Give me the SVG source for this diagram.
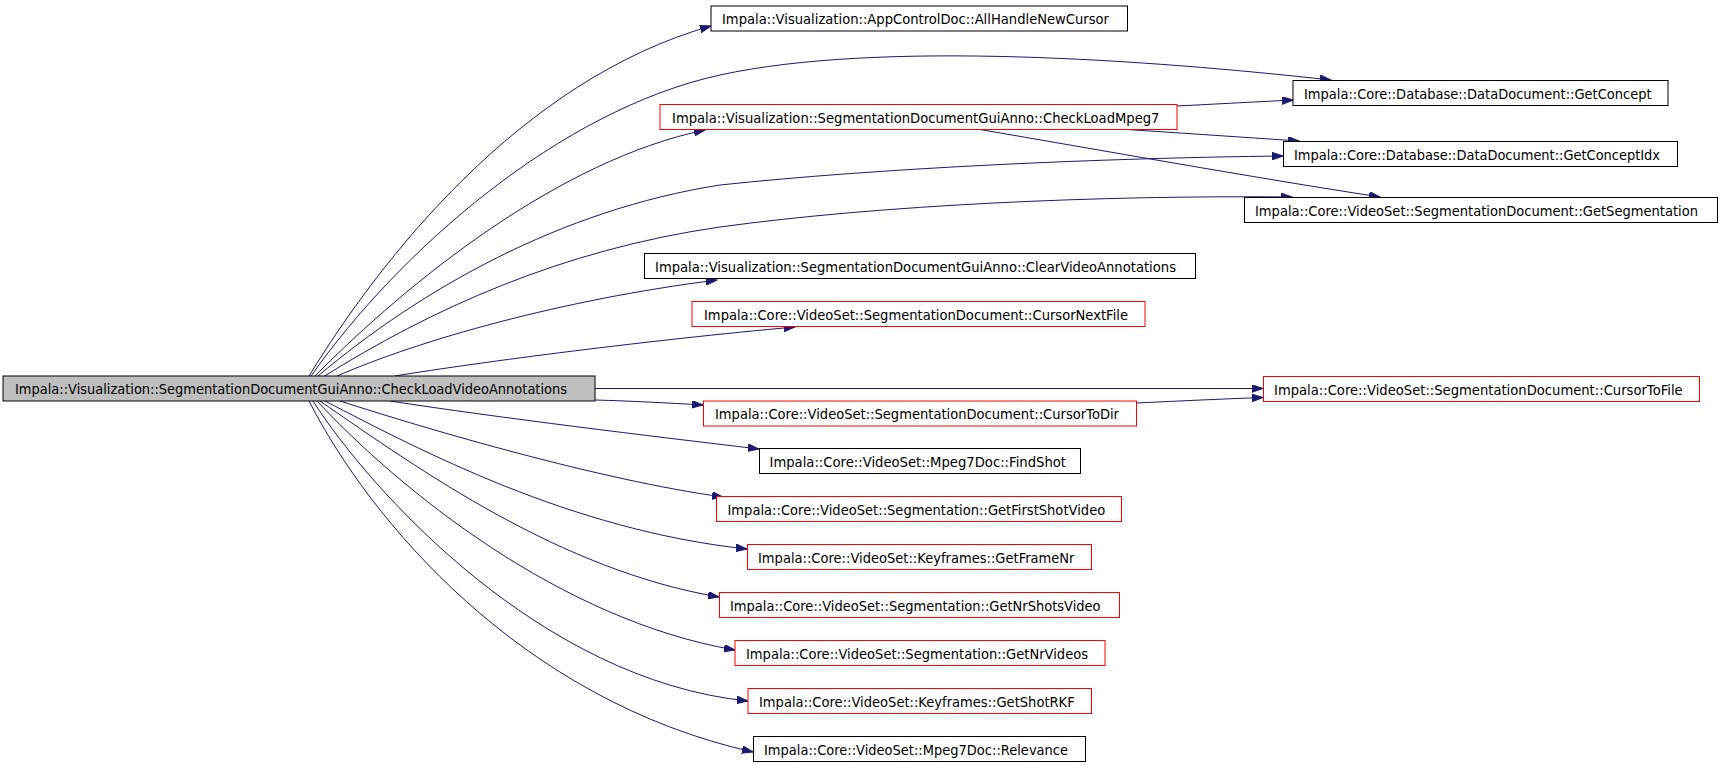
<svg xmlns="http://www.w3.org/2000/svg" width="1722" height="765" viewBox="0 0 1722 765">
<defs>
<style>
.n rect{fill:#ffffff;stroke:#000000;stroke-width:1}
.n.red rect{stroke:#ff0000}
.n.main rect{fill:#bfbfbf}
.n text{font-family:"DejaVu Sans","Liberation Sans",sans-serif;font-size:13.5px;fill:#000000}
#edges path{fill:none;stroke:#191970;stroke-width:1;marker-end:url(#arr)}
</style>
<marker id="arr" markerUnits="userSpaceOnUse" markerWidth="12" markerHeight="8" refX="11" refY="3.75" orient="auto" viewBox="0 0 12 8">
<path d="M0,0 L11,3.75 L0,7.5 z" fill="#191970" stroke="#191970" stroke-width="1"/>
</marker>
</defs>
<rect x="0" y="0" width="1722" height="765" fill="#ffffff"/>
<g id="edges">
<path d="M309,376 C380,260 520,80 711,26"/>
<path d="M311,376 C400,250 560,110 720,75 C880,40 1150,60 1331,80"/>
<path d="M315,376 C410,280 560,160 705,130"/>
<path d="M318,376 C420,290 560,210 720,185 C880,168 1100,158 1283,156"/>
<path d="M323,377 C430,310 560,250 720,227 C880,205 1100,195 1292,197"/>
<path d="M337,376 C420,340 560,300 717,280"/>
<path d="M395,376 C480,362 650,340 795,327"/>
<path d="M595,388.5 L1263,388.5"/>
<path d="M595,400 C630,401 670,403 703,405"/>
<path d="M1136,403 C1180,401 1220,399 1263,397.5"/>
<path d="M1177,106 L1293,100"/>
<path d="M1120,129 C1180,133 1240,137 1299,141"/>
<path d="M977,129 C1100,150 1250,177 1380,197"/>
<path d="M390,401 C500,418 650,436 759,449"/>
<path d="M340,401 C430,430 600,480 723,497"/>
<path d="M325,401 C420,450 570,530 747,549"/>
<path d="M320,401 C420,470 560,570 719,597"/>
<path d="M317,401 C400,490 560,620 735,650"/>
<path d="M313,401 C370,490 540,680 748,701"/>
<path d="M309,401 C370,520 520,700 753,752"/>
</g>
<g id="node-main" class="n main"><rect x="3" y="376" width="592" height="25"/><text x="15" y="394.3" textLength="552" lengthAdjust="spacingAndGlyphs">Impala::Visualization::SegmentationDocumentGuiAnno::CheckLoadVideoAnnotations</text></g>
<g id="node-allhandle" class="n"><rect x="711" y="6" width="416.5" height="25"/><text x="722" y="24.3" textLength="387" lengthAdjust="spacingAndGlyphs">Impala::Visualization::AppControlDoc::AllHandleNewCursor</text></g>
<g id="node-getconcept" class="n"><rect x="1293" y="80.5" width="375" height="25"/><text x="1304" y="98.8" textLength="347.6" lengthAdjust="spacingAndGlyphs">Impala::Core::Database::DataDocument::GetConcept</text></g>
<g id="node-checkloadmpeg7" class="n red"><rect x="660" y="104.5" width="517" height="25"/><text x="672" y="122.8" textLength="487.5" lengthAdjust="spacingAndGlyphs">Impala::Visualization::SegmentationDocumentGuiAnno::CheckLoadMpeg7</text></g>
<g id="node-getconceptidx" class="n"><rect x="1283.5" y="141.5" width="394" height="25"/><text x="1294" y="159.8" textLength="366" lengthAdjust="spacingAndGlyphs">Impala::Core::Database::DataDocument::GetConceptIdx</text></g>
<g id="node-getsegmentation" class="n"><rect x="1244.5" y="197.5" width="473" height="25"/><text x="1255" y="215.8" textLength="443" lengthAdjust="spacingAndGlyphs">Impala::Core::VideoSet::SegmentationDocument::GetSegmentation</text></g>
<g id="node-clearvideo" class="n"><rect x="644.5" y="253.5" width="551" height="25"/><text x="655" y="271.8" textLength="521" lengthAdjust="spacingAndGlyphs">Impala::Visualization::SegmentationDocumentGuiAnno::ClearVideoAnnotations</text></g>
<g id="node-cursornextfile" class="n red"><rect x="692" y="301.5" width="453" height="25"/><text x="704" y="319.8" textLength="424" lengthAdjust="spacingAndGlyphs">Impala::Core::VideoSet::SegmentationDocument::CursorNextFile</text></g>
<g id="node-cursortofile" class="n red"><rect x="1263.5" y="376.5" width="436" height="25"/><text x="1274" y="394.8" textLength="408.7" lengthAdjust="spacingAndGlyphs">Impala::Core::VideoSet::SegmentationDocument::CursorToFile</text></g>
<g id="node-cursortodir" class="n red"><rect x="703.5" y="401" width="433" height="25"/><text x="715" y="419.3" textLength="404" lengthAdjust="spacingAndGlyphs">Impala::Core::VideoSet::SegmentationDocument::CursorToDir</text></g>
<g id="node-findshot" class="n"><rect x="759.5" y="448.5" width="321" height="25"/><text x="769.5" y="466.8" textLength="296.5" lengthAdjust="spacingAndGlyphs">Impala::Core::VideoSet::Mpeg7Doc::FindShot</text></g>
<g id="node-getfirstshotvideo" class="n red"><rect x="716.5" y="496.5" width="405" height="25"/><text x="727.5" y="514.8" textLength="377.7" lengthAdjust="spacingAndGlyphs">Impala::Core::VideoSet::Segmentation::GetFirstShotVideo</text></g>
<g id="node-getframenr" class="n red"><rect x="747.5" y="544.5" width="344" height="25"/><text x="758" y="562.8" textLength="316.5" lengthAdjust="spacingAndGlyphs">Impala::Core::VideoSet::Keyframes::GetFrameNr</text></g>
<g id="node-getnrshotsvideo" class="n red"><rect x="719.5" y="592.5" width="400" height="25"/><text x="730" y="610.8" textLength="370.6" lengthAdjust="spacingAndGlyphs">Impala::Core::VideoSet::Segmentation::GetNrShotsVideo</text></g>
<g id="node-getnrvideos" class="n red"><rect x="735" y="640.5" width="370" height="25"/><text x="746" y="658.8" textLength="342" lengthAdjust="spacingAndGlyphs">Impala::Core::VideoSet::Segmentation::GetNrVideos</text></g>
<g id="node-getshotrkf" class="n red"><rect x="748" y="688.5" width="343.5" height="25"/><text x="759" y="706.8" textLength="315.7" lengthAdjust="spacingAndGlyphs">Impala::Core::VideoSet::Keyframes::GetShotRKF</text></g>
<g id="node-relevance" class="n"><rect x="753.5" y="736.5" width="332" height="25"/><text x="764" y="754.8" textLength="304" lengthAdjust="spacingAndGlyphs">Impala::Core::VideoSet::Mpeg7Doc::Relevance</text></g>
</svg>
